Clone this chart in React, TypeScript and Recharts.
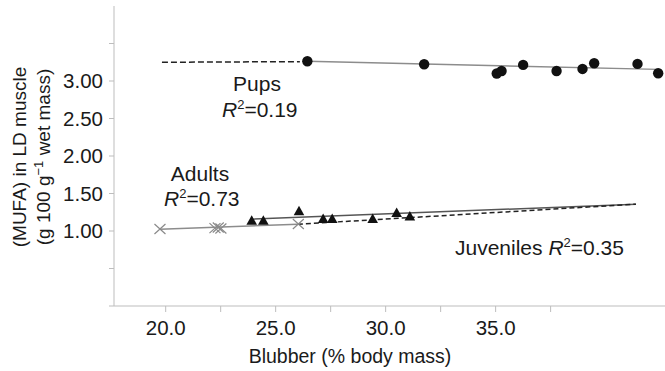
import React from "react";
import { ScatterChart, Scatter, XAxis, YAxis } from "recharts";

// Blubber (% body mass) vs MUFA in LD muscle
const pups = [
  { x: 26.44, y: 3.264 },
  { x: 31.75, y: 3.224 },
  { x: 35.05, y: 3.1 },
  { x: 35.27, y: 3.134 },
  { x: 36.25, y: 3.215 },
  { x: 37.77, y: 3.134 },
  { x: 38.95, y: 3.161 },
  { x: 39.48, y: 3.237 },
  { x: 41.45, y: 3.228 },
  { x: 42.39, y: 3.104 },
];

const juveniles = [
  { x: 23.91, y: 1.137 },
  { x: 24.44, y: 1.137 },
  { x: 26.06, y: 1.264 },
  { x: 27.16, y: 1.16 },
  { x: 27.57, y: 1.16 },
  { x: 29.41, y: 1.16 },
  { x: 30.5, y: 1.24 },
  { x: 31.1, y: 1.195 },
];

const adults = [
  { x: 19.74, y: 1.026 },
  { x: 22.24, y: 1.039 },
  { x: 22.39, y: 1.047 },
  { x: 22.51, y: 1.034 },
  { x: 26.03, y: 1.093 },
];

// regression lines (end points)
const pupsFit = [
  { x: 26.44, y: 3.264 },
  { x: 42.39, y: 3.155 },
];
const pupsExtension = [
  { x: 19.83, y: 3.25 },
  { x: 26.1, y: 3.258 },
];
const adultsFit = [
  { x: 19.74, y: 1.023 },
  { x: 26.01, y: 1.09 },
];
const juvenilesFit = [
  { x: 23.88, y: 1.157 },
  { x: 41.38, y: 1.358 },
];
const adultsExtension = [
  { x: 26.01, y: 1.09 },
  { x: 41.38, y: 1.358 },
];

const xTicks = [20, 22.5, 25, 27.5, 30, 32.5, 35, 37.5];
const yTicks = [0, 0.5, 1, 1.5, 2, 2.5, 3, 3.5];

const FONT = '"Liberation Sans", Arial, Helvetica, sans-serif';
const AXIS_GREY = "#bdbdbd";

const Dot = ({ cx, cy }: any) => <circle cx={cx} cy={cy} r={5.2} fill="#111" />;

const Triangle = ({ cx, cy }: any) => (
  <polygon
    points={`${cx},${cy - 5.5} ${cx + 5.3},${cy + 4} ${cx - 5.3},${cy + 4}`}
    fill="#111"
  />
);

const Cross = ({ cx, cy }: any) => (
  <path
    d={`M${cx - 5.5},${cy - 5}L${cx + 5.5},${cy + 5}M${cx - 5.5},${cy + 5}L${cx + 5.5},${cy - 5}`}
    stroke="#8a8a8a"
    strokeWidth={1.2}
    fill="none"
  />
);

const NoMarker = () => <g />;

const R2 = ({ x, y, value, anchor = "start" }: any) => (
  <text x={x} y={y} textAnchor={anchor}>
    <tspan fontStyle="italic">R</tspan>
    <tspan fontSize={13} dy={-8}>
      2
    </tspan>
    <tspan dy={8}>={value}</tspan>
  </text>
);

export default function App() {
  const tick = { fill: "#1a1a1a", fontSize: 20.5, fontFamily: FONT };

  return (
    <div style={{ position: "fixed", left: 0, top: 0, width: 665, height: 371, background: "#fff" }}>
      <ScatterChart width={665} height={371} margin={{ top: 6, right: 0, bottom: 0, left: 0 }}>
        <XAxis
          type="number"
          dataKey="x"
          domain={[17.65, 42.7]}
          ticks={xTicks}
          interval={0}
          allowDataOverflow
          tickFormatter={(v: number) => (v % 5 === 0 ? v.toFixed(1) : "")}
          height={65}
          tickSize={6}
          tickMargin={8}
          axisLine={{ stroke: AXIS_GREY }}
          tickLine={{ stroke: AXIS_GREY }}
          tick={tick}
        />
        <YAxis
          type="number"
          dataKey="y"
          domain={[0, 4]}
          ticks={yTicks}
          interval={0}
          allowDataOverflow
          tickFormatter={(v: number) => (v >= 1 && v <= 3 ? v.toFixed(2) : "")}
          width={114}
          tickSize={5}
          tickMargin={6}
          axisLine={{ stroke: AXIS_GREY }}
          tickLine={{ stroke: AXIS_GREY }}
          tick={tick}
        />

        <Scatter data={pupsExtension} shape={NoMarker} line={{ stroke: "#222", strokeWidth: 1.5, strokeDasharray: "6 3" }} isAnimationActive={false} />
        <Scatter data={pupsFit} shape={NoMarker} line={{ stroke: "#8c8c8c", strokeWidth: 1.5 }} isAnimationActive={false} />
        <Scatter data={adultsFit} shape={NoMarker} line={{ stroke: "#8c8c8c", strokeWidth: 1.5 }} isAnimationActive={false} />
        <Scatter data={juvenilesFit} shape={NoMarker} line={{ stroke: "#555", strokeWidth: 1.5 }} isAnimationActive={false} />
        <Scatter data={adultsExtension} shape={NoMarker} line={{ stroke: "#222", strokeWidth: 1.5, strokeDasharray: "5 3" }} isAnimationActive={false} />

        <Scatter data={adults} shape={Cross} isAnimationActive={false} />
        <Scatter data={juveniles} shape={Triangle} isAnimationActive={false} />
        <Scatter data={pups} shape={Dot} isAnimationActive={false} />
      </ScatterChart>

      <svg
        width={665}
        height={371}
        style={{ position: "absolute", left: 0, top: 0, pointerEvents: "none" }}
        fontFamily={FONT}
        fontSize={21}
        fill="#1a1a1a"
      >
        {/* y axis title */}
        <text transform="translate(26,157) rotate(-90)" textAnchor="middle" fontSize={19}>
          (MUFA) in LD muscle
        </text>
        <text transform="translate(50,157) rotate(-90)" textAnchor="middle" fontSize={19}>
          (g 100 g
          <tspan fontSize={13} dy={-7}>
            −1
          </tspan>
          <tspan dy={7}> wet mass)</tspan>
        </text>

        {/* x axis title */}
        <text x={350} y={363} textAnchor="middle" fontSize={19.5}>
          Blubber (% body mass)
        </text>

        {/* group annotations */}
        <text x={257} y={91} textAnchor="middle">
          Pups
        </text>
        <R2 x={222} y={117} value="0.19" />

        <text x={200} y={181} textAnchor="middle">
          Adults
        </text>
        <R2 x={164} y={206} value="0.73" />

        <text x={455} y={255}>
          Juveniles{" "}
          <tspan fontStyle="italic">R</tspan>
          <tspan fontSize={13} dy={-8}>
            2
          </tspan>
          <tspan dy={8}>=0.35</tspan>
        </text>
      </svg>
    </div>
  );
}
